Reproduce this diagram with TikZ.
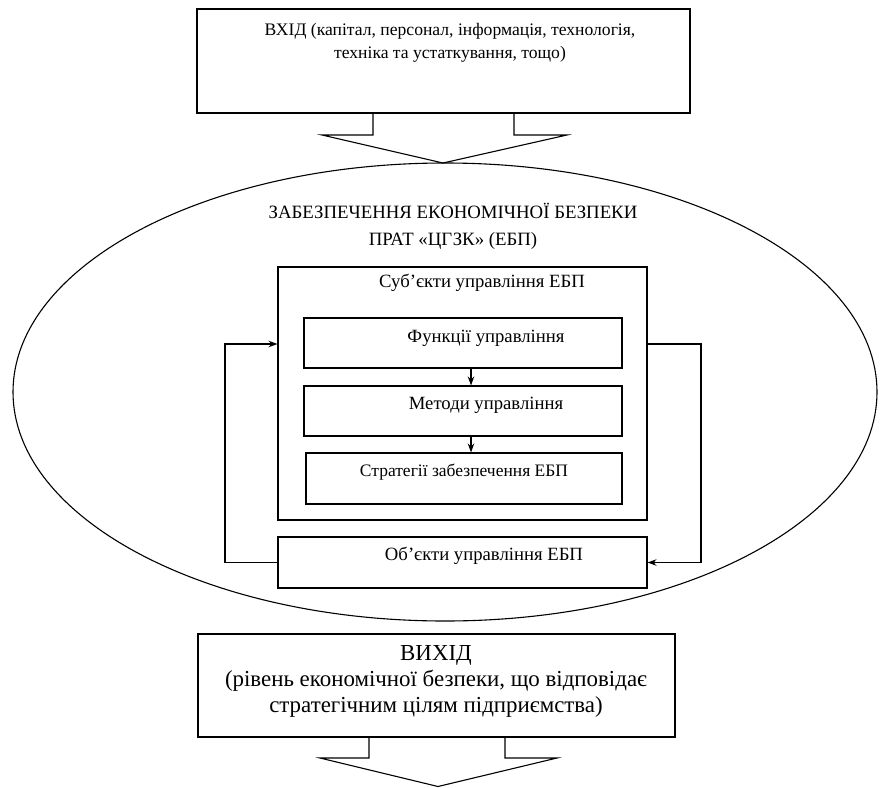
\documentclass[tikz,border=0pt]{standalone}
\usepackage{fontspec}
\setmainfont{Liberation Serif}
\usetikzlibrary{arrows.meta,calc,shapes.geometric}
\begin{document}
\begin{tikzpicture}[x=1pt,y=-1pt,
  line width=1.1pt,
  frame/.style={draw, rectangle, inner sep=0pt},
  lbl/.style={inner sep=0pt, align=center},
  boxfont/.style={font=\fontsize{18.7}{22}\selectfont},
  arr/.style={-{Stealth[length=9pt,width=6.5pt]}}]
\useasboundingbox (0,0) rectangle (880,787);

% input block with its downward arrow
\node[frame, minimum width=493pt, minimum height=104pt] (in) at (443.5,61) {};
\node[lbl, font=\fontsize{17.6}{23}\selectfont] (intext) at (450,43)
  {ВХІД (капітал, персонал, інформація, технологія,\\техніка та устаткування, тощо)};
\coordinate (inapex) at (443,163);
\draw (373,0 |- in.south) -- (373,135) -- (322,135) -- (inapex)
      -- (567,135) -- (514,135) -- (514,0 |- in.south);

% the system as a whole
\node[draw, ellipse, minimum width=864pt, minimum height=458pt, inner sep=0pt] (sys) at (445,392) {};
\node[lbl, font=\fontsize{18.8}{27}\selectfont] (systext) at (453,226)
  {ЗАБЕЗПЕЧЕННЯ ЕКОНОМІЧНОЇ БЕЗПЕКИ\\ПРАТ «ЦГЗК» (ЕБП)};

% subjects of management
\node[frame, minimum width=369pt, minimum height=253pt] (subj) at (462.5,393.5) {};
\node[lbl, boxfont] (subjtext) at (482,283) {Суб’єкти управління ЕБП};

\node[frame, minimum width=318pt, minimum height=50pt] (fun) at (463,343) {};
\node[lbl, boxfont] (funtext) at (486,338) {Функції управління};
\node[frame, minimum width=318pt, minimum height=50pt] (met) at (463,411) {};
\node[lbl, boxfont] (mettext) at (486,405) {Методи управління};
\node[frame, minimum width=316pt, minimum height=51pt] (str) at (464,478.5) {};
\node[lbl, font=\fontsize{17.5}{22}\selectfont] (strtext) at (464,472) {Стратегії забезпечення ЕБП};

\draw[arr] (471,0 |- fun.south) -- (471,0 |- met.north);
\draw[arr] (471,0 |- met.south) -- (471,0 |- str.north);

% objects of management
\node[frame, minimum width=369pt, minimum height=51pt] (obj) at (462.5,562.5) {};
\node[lbl, boxfont] (objtext) at (484,556) {Об’єкти управління ЕБП};

% feedback loops
\draw[arr] (obj.west) -- (225,0 |- obj.west) -- (225,344) -- (subj.west |- 0,344);
\draw[arr] (subj.east |- 0,344) -- (701,344) -- (701,0 |- obj.east) -- (obj.east);

% output block with its downward arrow
\node[frame, minimum width=477pt, minimum height=103pt] (out) at (436.5,685.5) {};
\node[lbl, font=\fontsize{22.9}{26}\selectfont] (outtext) at (436,681)
  {ВИХІД\\(рівень економічної безпеки, що відповідає\\стратегічним цілям підприємства)};
\coordinate (outapex) at (438,786.5);
\draw (369,0 |- out.south) -- (369,758) -- (320,758) -- (outapex)
      -- (557,758) -- (505,758) -- (505,0 |- out.south);
\end{tikzpicture}
\end{document}
